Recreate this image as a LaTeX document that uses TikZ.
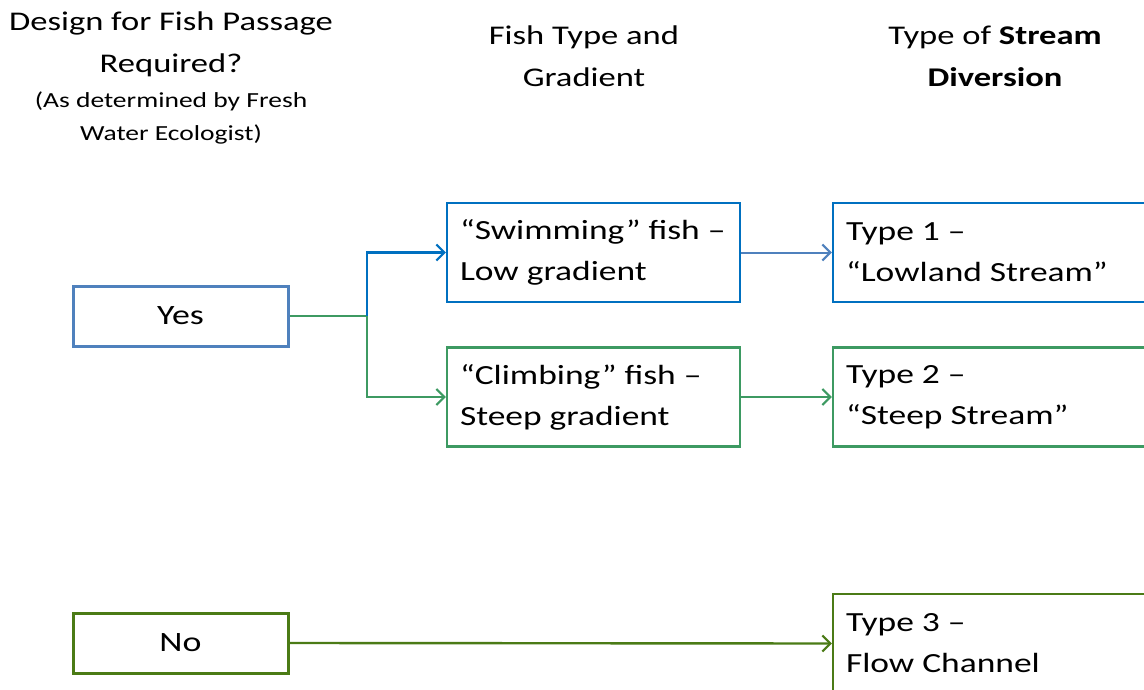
\documentclass[tikz,border=0pt]{standalone}
\usepackage{fontspec}
\setmainfont{Carlito}[FakeStretch=1.28]
\usetikzlibrary{arrows.meta}
\definecolor{yesblue}{HTML}{4F81BD}
\definecolor{bblue}{HTML}{0070C0}
\definecolor{cgreen}{HTML}{3D9A62}
\definecolor{ngreen}{HTML}{4B7B16}
\definecolor{lblue}{HTML}{4F81BD}
\begin{document}
\begin{tikzpicture}[x=1pt,y=-1pt,
  hdr/.style={inner sep=0pt,align=center,font=\fontsize{27}{42}\selectfont},
  sub/.style={inner sep=0pt,align=center,font=\fontsize{21.5}{33}\selectfont},
  choice/.style={draw,line width=3pt,minimum width=215pt,minimum height=60pt,inner sep=0pt,font=\fontsize{28}{40}\selectfont},
  textbox/.style={draw,line width=2.2pt,minimum height=99pt,inner xsep=13pt,inner ysep=0pt,align=flush left,font=\fontsize{27.7}{41}\selectfont},
  fishbox/.style={textbox,text width=267pt},
  typebox/.style={textbox,text width=304pt},
  conn/.style={line width=2.4pt},
  arr/.style={conn,-{Straight Barb[length=8pt,width=16pt,line width=2.2pt]}}
]
\useasboundingbox (0,0) rectangle (1144,690);
\clip (0,0) rectangle (1144,690);
\fill[white] (0,0) rectangle (1144,690);

\node[hdr] (h1) at (171,44) {Design for Fish Passage\\Required?};
\node[sub] (h1s) at (171,118) {(As determined by Fresh\\Water Ecologist)};
\node[hdr] (h2) at (584,56) {Fish Type and\\Gradient};
\node[hdr] (h3) at (995,56) {Type of \textbf{Stream}\\\textbf{Diversion}};

\node[choice,draw=yesblue] (yes) at (180.5,316) {Yes};
\node[choice,draw=ngreen] (no) at (180.5,643) {No};

\node[fishbox,draw=bblue] (swim) at (593.5,252.5) {“Swimming” fish –\\Low gradient};
\node[fishbox,draw=cgreen] (climb) at (593.5,397) {“Climbing” fish –\\Steep gradient};

\node[typebox,draw=bblue] (t1) at (998,252.5) {Type 1 –\\“Lowland Stream”};
\node[typebox,draw=cgreen] (t2) at (998,397) {Type 2 –\\“Steep Stream”};
\node[typebox,draw=ngreen] (t3) at (998,643.5) {Type 3 –\\Flow Channel};

\coordinate (j) at (367,316);
\draw[conn,cgreen] (yes.east) -- (j);
\draw[arr,bblue] (j) |- (swim.west);
\draw[arr,cgreen] (j) |- (climb.west);
\draw[arr,lblue,line width=2pt] (swim.east) -- (t1.west);
\draw[arr,cgreen] (climb.east) -- (t2.west);
\draw[arr,ngreen] (no.east) -- (t3.west);
\end{tikzpicture}
\end{document}
